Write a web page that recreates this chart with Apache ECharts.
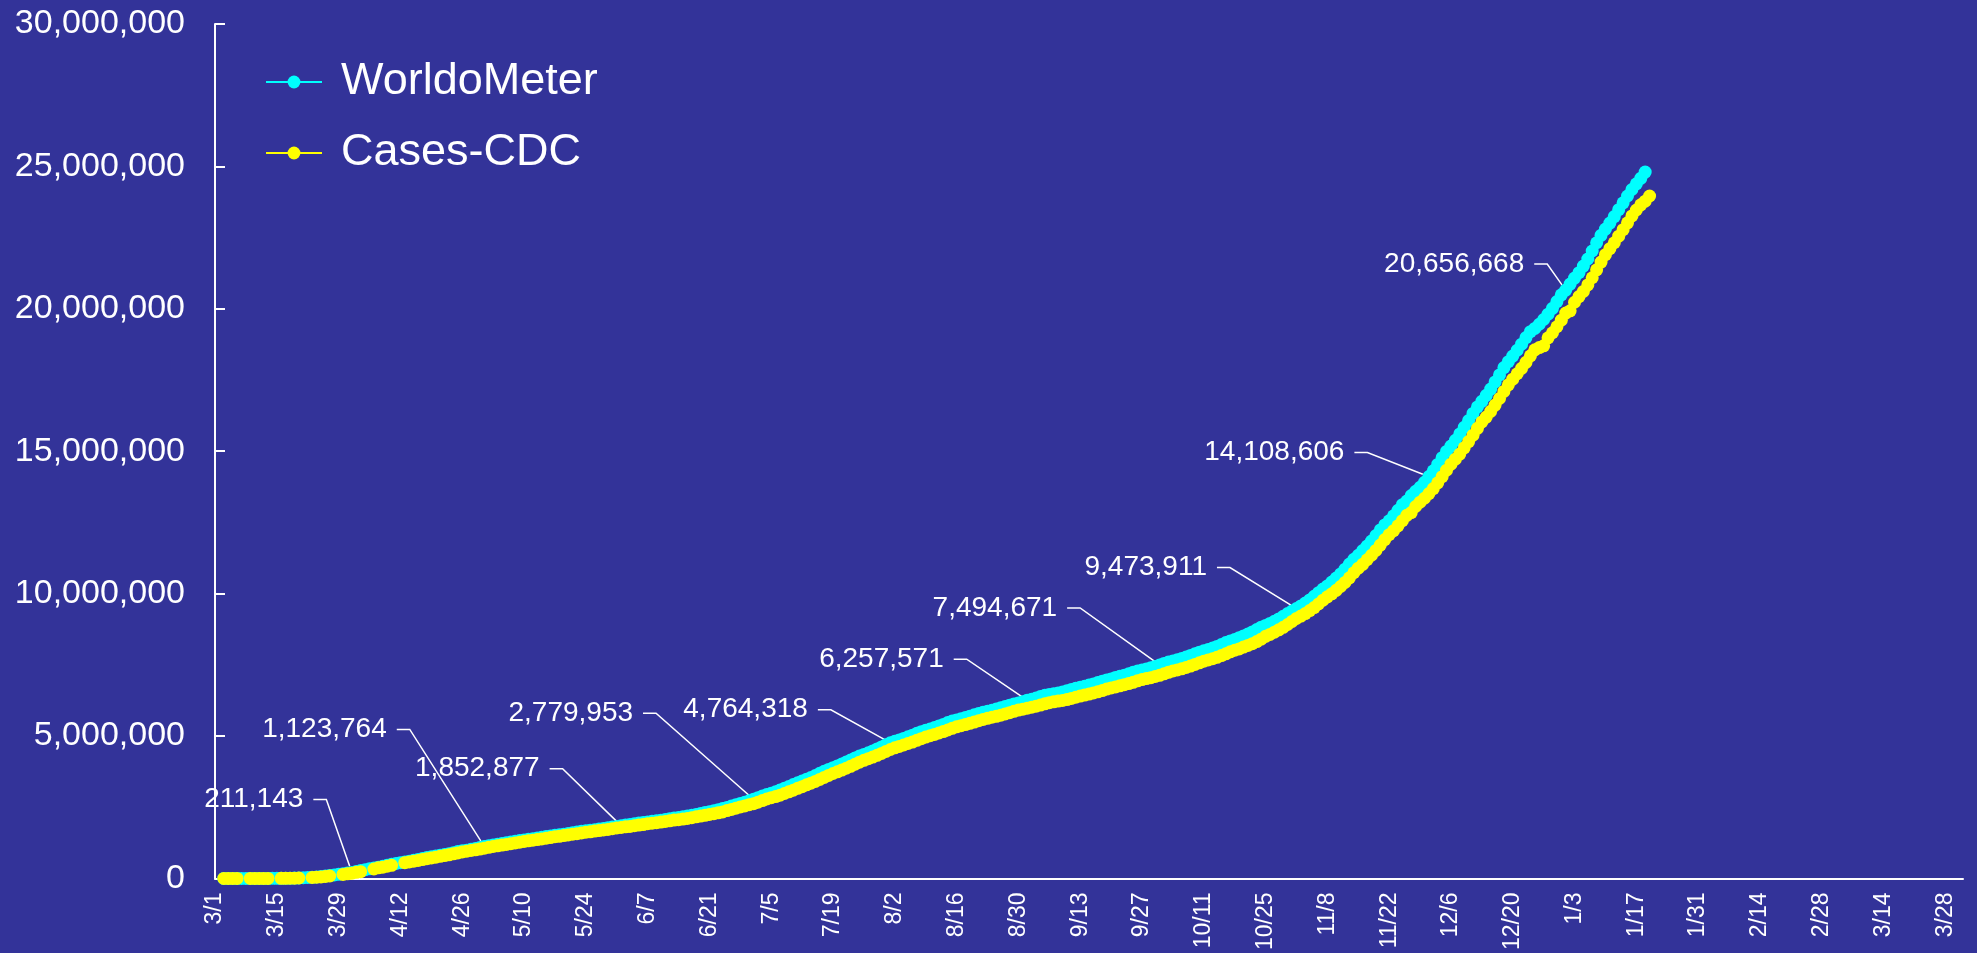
<!DOCTYPE html>
<html>
<head>
<meta charset="utf-8">
<script src="https://cdn.jsdelivr.net/npm/echarts@6/dist/echarts.min.js"></script>
<style>
  html, body { margin: 0; padding: 0; background: #333399; }
  #chart { width: 1977px; height: 953px; }
</style>
</head>
<body>
<div id="chart"></div>
<script>
// daily categories, 3/1/2020 .. 4/1/2021
const dates = [
  '3/1','3/2','3/3','3/4','3/5','3/6','3/7','3/8','3/9','3/10','3/11','3/12','3/13','3/14','3/15','3/16','3/17','3/18','3/19','3/20','3/21','3/22','3/23','3/24','3/25','3/26','3/27','3/28','3/29','3/30','3/31',
  '4/1','4/2','4/3','4/4','4/5','4/6','4/7','4/8','4/9','4/10','4/11','4/12','4/13','4/14','4/15','4/16','4/17','4/18','4/19','4/20','4/21','4/22','4/23','4/24','4/25','4/26','4/27','4/28','4/29','4/30',
  '5/1','5/2','5/3','5/4','5/5','5/6','5/7','5/8','5/9','5/10','5/11','5/12','5/13','5/14','5/15','5/16','5/17','5/18','5/19','5/20','5/21','5/22','5/23','5/24','5/25','5/26','5/27','5/28','5/29','5/30','5/31',
  '6/1','6/2','6/3','6/4','6/5','6/6','6/7','6/8','6/9','6/10','6/11','6/12','6/13','6/14','6/15','6/16','6/17','6/18','6/19','6/20','6/21','6/22','6/23','6/24','6/25','6/26','6/27','6/28','6/29','6/30',
  '7/1','7/2','7/3','7/4','7/5','7/6','7/7','7/8','7/9','7/10','7/11','7/12','7/13','7/14','7/15','7/16','7/17','7/18','7/19','7/20','7/21','7/22','7/23','7/24','7/25','7/26','7/27','7/28','7/29','7/30','7/31',
  '8/1','8/2','8/3','8/4','8/5','8/6','8/7','8/8','8/9','8/10','8/11','8/12','8/13','8/14','8/15','8/16','8/17','8/18','8/19','8/20','8/21','8/22','8/23','8/24','8/25','8/26','8/27','8/28','8/29','8/30','8/31',
  '9/1','9/2','9/3','9/4','9/5','9/6','9/7','9/8','9/9','9/10','9/11','9/12','9/13','9/14','9/15','9/16','9/17','9/18','9/19','9/20','9/21','9/22','9/23','9/24','9/25','9/26','9/27','9/28','9/29','9/30',
  '10/1','10/2','10/3','10/4','10/5','10/6','10/7','10/8','10/9','10/10','10/11','10/12','10/13','10/14','10/15','10/16','10/17','10/18','10/19','10/20','10/21','10/22','10/23','10/24','10/25','10/26','10/27','10/28','10/29','10/30','10/31',
  '11/1','11/2','11/3','11/4','11/5','11/6','11/7','11/8','11/9','11/10','11/11','11/12','11/13','11/14','11/15','11/16','11/17','11/18','11/19','11/20','11/21','11/22','11/23','11/24','11/25','11/26','11/27','11/28','11/29','11/30',
  '12/1','12/2','12/3','12/4','12/5','12/6','12/7','12/8','12/9','12/10','12/11','12/12','12/13','12/14','12/15','12/16','12/17','12/18','12/19','12/20','12/21','12/22','12/23','12/24','12/25','12/26','12/27','12/28','12/29','12/30','12/31',
  '1/1','1/2','1/3','1/4','1/5','1/6','1/7','1/8','1/9','1/10','1/11','1/12','1/13','1/14','1/15','1/16','1/17','1/18','1/19','1/20','1/21','1/22','1/23','1/24','1/25','1/26','1/27','1/28','1/29','1/30','1/31',
  '2/1','2/2','2/3','2/4','2/5','2/6','2/7','2/8','2/9','2/10','2/11','2/12','2/13','2/14','2/15','2/16','2/17','2/18','2/19','2/20','2/21','2/22','2/23','2/24','2/25','2/26','2/27','2/28',
  '3/1','3/2','3/3','3/4','3/5','3/6','3/7','3/8','3/9','3/10','3/11','3/12','3/13','3/14','3/15','3/16','3/17','3/18','3/19','3/20','3/21','3/22','3/23','3/24','3/25','3/26','3/27','3/28','3/29','3/30','3/31',
  '4/1'
];

// cumulative cases, one value per day from 3/1
const worldoMeter = [
  null, null, 124, 158, 221, 319, 435, 541, 704, 994,
  1301, 1697, 2247, 2943, 3680, 4663, 6411, 9197, 13779, 19367,
  24192, 33592, 43781, 54856, 68211, 85435, 104126, 123578, 143491, 164253,
  188172, 211143, 243453, 275586, 308850, 337072, 366667, 396223, 429052, 462780,
  496535, 526396, 555313, 580619, 607670, 636350, 667801, 699706, 732197, 759086,
  784326, 811865, 840351, 869170, 905358, 942000, 968000, 993000, 1022000, 1055000,
  1090000, 1123764, 1152000, 1177000, 1200000, 1224000, 1251000, 1279000, 1306000, 1331000,
  1352000, 1372000, 1394000, 1416000, 1443000, 1469000, 1494000, 1514000, 1535000, 1556000,
  1579000, 1605000, 1630000, 1654000, 1675000, 1694000, 1713000, 1733000, 1756000, 1781000,
  1806000, 1828000, 1852877, 1874000, 1896000, 1918000, 1944000, 1967000, 1986000, 2005000,
  2024000, 2045000, 2068000, 2094000, 2119000, 2140000, 2163000, 2189000, 2216000, 2245000,
  2279000, 2313000, 2342000, 2375000, 2413000, 2453000, 2495000, 2541000, 2586000, 2630000,
  2675000, 2726000, 2779953, 2836000, 2893000, 2944000, 2990000, 3041000, 3103000, 3165000,
  3228000, 3297000, 3360000, 3419000, 3479000, 3545000, 3614000, 3690000, 3762000, 3828000,
  3889000, 3951000, 4017000, 4089000, 4159000, 4233000, 4299000, 4356000, 4413000, 4478000,
  4549000, 4619000, 4691000, 4764318, 4814000, 4862000, 4917000, 4972000, 5032000, 5094000,
  5152000, 5199000, 5247000, 5299000, 5354000, 5407000, 5472000, 5525000, 5566000, 5605000,
  5650000, 5697000, 5743000, 5791000, 5834000, 5869000, 5906000, 5946000, 5990000, 6037000,
  6084000, 6127000, 6162000, 6206000, 6257571, 6289000, 6334000, 6386000, 6430000, 6461000,
  6484000, 6512000, 6547000, 6586000, 6634000, 6676000, 6712000, 6749000, 6790000, 6831000,
  6876000, 6926000, 6969000, 7005000, 7057000, 7097000, 7138000, 7183000, 7238000, 7283000,
  7318000, 7352000, 7395000, 7442000, 7494671, 7549000, 7598000, 7634000, 7677000, 7722000,
  7773000, 7832000, 7890000, 7944000, 7991000, 8036000, 8088000, 8148000, 8213000, 8283000,
  8339000, 8388000, 8455000, 8516000, 8579000, 8656000, 8741000, 8823000, 8884000, 8954000,
  9028000, 9111000, 9204000, 9303000, 9388000, 9473911, 9569000, 9669000, 9779000, 9904000,
  10034000, 10162000, 10270000, 10405000, 10545000, 10693000, 10858000, 11040000, 11206000, 11346000,
  11511000, 11673000, 11848000, 12040000, 12236000, 12414000, 12559000, 12734000, 12926000, 13123000,
  13253000, 13441000, 13593000, 13733000, 13911000, 14108606, 14315000, 14538000, 14774000, 14994000,
  15180000, 15381000, 15609000, 15840000, 16076000, 16327000, 16555000, 16751000, 16962000, 17183000,
  17434000, 17680000, 17938000, 18144000, 18340000, 18546000, 18757000, 18991000, 19197000, 19313000,
  19459000, 19625000, 19811000, 20017000, 20255000, 20491000, 20656668, 20870000, 21080000, 21270000,
  21500000, 21750000, 22030000, 22320000, 22580000, 22800000, 23010000, 23240000, 23480000, 23720000,
  23960000, 24190000, 24390000, 24580000, 24800000
];

const casesCDC = [
  null, null, 60, 80, 100, 160, null, null, 420, 650,
  900, 1200, 1650, null, null, 3500, 4600, 7000, 10400, 15200,
  null, null, 33400, 44200, 54500, 68400, 85400, null, null, 140900,
  163500, 186100, 213100, 239300, null, null, 330900, 374300, 395000, 427500,
  459200, null, null, 554800, 579000, 605400, 632500, 661700, 690700, 720600,
  746600, 776100, 802600, 828400, 865600, 895800, 928600, 957900, 981200, 1005100,
  1031700, 1062400, 1092900, 1122500, 1145300, 1171200, 1193800, 1219100, 1248000, 1274000,
  1300000, 1321800, 1342600, 1364000, 1384900, 1412100, 1435100, 1467800, 1480300, 1504800,
  1525500, 1551100, 1571700, 1595900, 1622600, 1637500, 1662300, 1681200, 1699900, 1721800,
  1747100, 1770400, 1787700, 1811300, 1827200, 1851500, 1872700, 1891700, 1920900, 1938800,
  1956400, 1979900, 2000500, 2023300, 2048300, 2063800, 2085800, 2104300, 2132300, 2163300,
  2191100, 2215600, 2248000, 2275600, 2302300, 2336600, 2381500, 2422300, 2467800, 2510200,
  2545300, 2590600, 2624900, 2679200, 2732500, 2789700, 2834500, 2873000, 2923400, 2982900,
  3041700, 3097000, 3163600, 3222700, 3286000, 3344200, 3406000, 3475300, 3548100, 3618000,
  3685400, 3745000, 3805500, 3869700, 3937900, 4009000, 4081700, 4148300, 4206800, 4262800,
  4322700, 4389100, 4458400, 4526600, 4586800, 4636100, 4684400, 4737400, 4788800, 4848000,
  4907500, 4964700, 5010500, 5058000, 5106300, 5157500, 5212800, 5270400, 5324500, 5362900,
  5401000, 5445400, 5491800, 5536400, 5581100, 5623400, 5658900, 5693600, 5731700, 5776000,
  5821600, 5866100, 5909800, 5943500, 5977800, 6012400, 6048700, 6088500, 6132400, 6171200,
  6202600, 6226100, 6250400, 6281800, 6319600, 6362200, 6403600, 6439200, 6473000, 6513700,
  6552700, 6597000, 6647400, 6689800, 6725000, 6762400, 6801800, 6840800, 6884700, 6937900,
  6982900, 7016300, 7050100, 7090300, 7133200, 7182900, 7238000, 7285000, 7321400, 7360600,
  7406500, 7456900, 7514500, 7571800, 7626800, 7673200, 7714100, 7765200, 7824000, 7886500,
  7955400, 8011900, 8059900, 8122400, 8181600, 8243300, 8317000, 8400300, 8500800, 8568100,
  8646600, 8729200, 8818300, 8915300, 9024400, 9128100, 9213000, 9300000, 9405000, 9511000,
  9638000, 9769000, 9888000, 9993000, 10116000, 10250000, 10394000, 10555000, 10733000, 10895000,
  11030000, 11190000, 11348000, 11517000, 11705000, 11897000, 12071000, 12212000, 12381000, 12560000,
  12750000, 12845000, 13060000, 13210000, 13349000, 13512000, 13690000, 13890000, 14106000, 14333000,
  14545000, 14720000, 14900000, 15118000, 15339000, 15563000, 15805000, 16028000, 16200000, 16400000,
  16620000, 16852000, 17100000, 17330000, 17530000, 17720000, 17910000, 18120000, 18350000, 18560000,
  18640000, 18700000, 18980000, 19160000, 19370000, 19600000, 19850000, 19930000, 20230000, 20430000,
  20610000, 20840000, 21090000, 21370000, 21640000, 21900000, 22110000, 22320000, 22550000, 22780000,
  23020000, 23260000, 23470000, 23650000, 23780000, 23960000
];

// first-of-month points that carry a value label (index into dates)
const labelDays = [31, 61, 92, 122, 153, 184, 214, 245, 275, 306];

// where each label sits relative to its point (px)
const labelShift = {
  31: [-27, -73], 61: [-76, -117], 92: [-60, -57], 122: [-99, -86], 153: [-61, -33],
  184: [-62, -41], 214: [-81, -57], 245: [-68, -41], 275: [-63, -24], 306: [-20, -26]
};

const FONT = '"Liberation Sans", Arial, sans-serif';
const fmt = v => Number(v).toLocaleString('en-US');

var chart = echarts.init(document.getElementById('chart'));

var wmData = worldoMeter.map(function (v, i) {
  if (labelDays.indexOf(i) >= 0) {
    return { value: v, label: { show: true } };
  }
  return v;
});

var option = {
  backgroundColor: '#333399',
  animation: false,
  grid: { left: 215, right: 14, top: 24, bottom: 71 },
  legend: {
    orient: 'vertical',
    left: 260,
    top: 54,
    itemWidth: 56,
    itemHeight: 16,
    itemGap: 25,
    textStyle: { color: '#fff', fontSize: 45, fontFamily: FONT, lineHeight: 46, padding: [0, 0, 0, 14] },
    data: ['WorldoMeter', 'Cases-CDC']
  },
  xAxis: {
    type: 'category',
    boundaryGap: false,
    data: dates,
    axisLine: { lineStyle: { color: '#fff', width: 2 } },
    axisTick: { show: false },
    splitLine: { show: false },
    axisLabel: {
      color: '#fff',
      fontSize: 23,
      fontFamily: FONT,
      rotate: 90,
      margin: 14,
      interval: function (i) { return i % 14 === 0; }
    }
  },
  yAxis: {
    type: 'value',
    min: 0,
    max: 30000000,
    interval: 5000000,
    splitLine: { show: false },
    axisLine: { show: true, lineStyle: { color: '#fff', width: 2 } },
    axisTick: { show: true, inside: true, length: 10, lineStyle: { color: '#fff', width: 2 } },
    axisLabel: { color: '#fff', fontSize: 34, fontFamily: FONT, margin: 30, formatter: fmt }
  },
  series: [
    {
      name: 'WorldoMeter',
      type: 'line',
      data: wmData,
      symbol: 'circle',
      symbolSize: 13,
      showAllSymbol: true,
      color: '#00FFFF',
      lineStyle: { color: '#00FFFF', width: 3 },
      itemStyle: { color: '#00FFFF' },
      emphasis: { disabled: true },
      label: {
        show: false,
        position: 'left',
        distance: 5,
        color: '#fff',
        fontSize: 28,
        fontFamily: FONT,
        backgroundColor: 'rgba(51,51,153,0)',
        padding: [0, 10, 0, 0],
        formatter: function (p) { return fmt(p.value); }
      },
      labelLine: { show: true, length2: 13, lineStyle: { color: '#fff', width: 1.5 } },
      labelLayout: function (p) {
        var s = labelShift[p.dataIndex];
        if (!s) return {};
        return { dx: s[0], dy: s[1] };
      }
    },
    {
      name: 'Cases-CDC',
      type: 'line',
      data: casesCDC,
      symbol: 'circle',
      symbolSize: 13,
      showAllSymbol: true,
      color: '#FFFF00',
      lineStyle: { color: '#FFFF00', width: 3 },
      itemStyle: { color: '#FFFF00' },
      emphasis: { disabled: true }
    }
  ]
};

chart.setOption(option);
</script>
</body>
</html>
